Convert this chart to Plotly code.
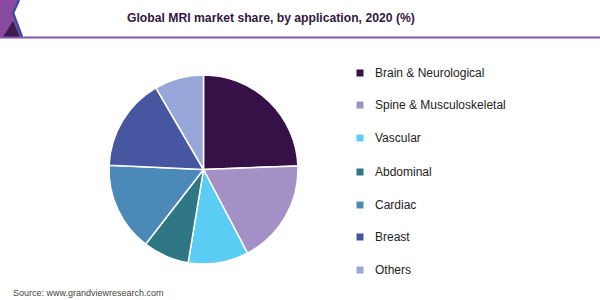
import plotly.graph_objects as go

categories = ["Brain & Neurological", "Spine & Musculoskeletal", "Vascular",
              "Abdominal", "Cardiac", "Breast", "Others"]
shares = [24.4, 17.9, 10.3, 7.9, 15.2, 15.9, 8.4]
colors = ["#361148", "#a390c4", "#5bcdf5", "#2f7787", "#4b8ab8", "#4656a0", "#97a7da"]

title_text = "Global MRI market share, by application, 2020 (%)"
source_text = "Source: www.grandviewresearch.com"

W, H = 600, 300


def px(x):
    return x / W


def py(y):
    return 1 - y / H


cx, cy, r = 203.5, 169.5, 94.5

fig = go.Figure()
fig.add_trace(go.Pie(
    labels=categories, values=shares, sort=False, direction="clockwise",
    rotation=0, marker=dict(colors=colors, line=dict(color="white", width=1.5)),
    textinfo="none", hoverinfo="label+percent", showlegend=False,
    domain=dict(x=[px(cx - r), px(cx + r)], y=[py(cy + r), py(cy - r)]),
))

shapes = []
annotations = []

# header decoration
def path(points):
    s = "M " + " L ".join(f"{px(x)},{py(y)}" for x, y in points) + " Z"
    return s

shapes.append(dict(type="path", xref="paper", yref="paper",
                   path=path([(0, 0), (18, 0), (12, 13), (21, 37), (0, 37)]),
                   fillcolor="#8a4a9f", line=dict(width=0)))
shapes.append(dict(type="path", xref="paper", yref="paper",
                   path=path([(3, 37), (13, 21), (20, 37)]),
                   fillcolor="#3d1a50", line=dict(width=0)))
shapes.append(dict(type="path", xref="paper", yref="paper",
                   path=f"M {px(19)},{py(0)} L {px(13)},{py(13)} L {px(22)},{py(37)}",
                   line=dict(color="#3b48a0", width=2.5)))
shapes.append(dict(type="line", xref="paper", yref="paper",
                   x0=0, x1=1, y0=py(37.5), y1=py(37.5),
                   line=dict(color="#8354a8", width=2)))

annotations.append(dict(text=f"<b>{title_text}</b>", x=px(271), y=py(18),
                        xref="paper", yref="paper", showarrow=False,
                        xanchor="center", yanchor="middle",
                        font=dict(family="Liberation Sans, Arial", size=12.2, color="#35183f")))
annotations.append(dict(text=source_text, x=px(11), y=py(293),
                        xref="paper", yref="paper", showarrow=False,
                        xanchor="left", yanchor="middle",
                        font=dict(family="Liberation Sans, Arial", size=9, color="#444444")))

# custom legend
legend_y = [73, 105, 138, 172, 205, 237, 270]
for cat, col, ly in zip(categories, colors, legend_y):
    shapes.append(dict(type="rect", xref="paper", yref="paper",
                       x0=px(356.5), x1=px(363.5), y0=py(ly + 3.5), y1=py(ly - 3.5),
                       fillcolor=col, line=dict(width=0)))
    annotations.append(dict(text=cat, x=px(373), y=py(ly),
                            xref="paper", yref="paper", showarrow=False,
                            xanchor="left", yanchor="middle",
                            font=dict(family="Liberation Sans, Arial", size=12, color="#222222")))

fig.update_layout(
    width=W, height=H, margin=dict(l=0, r=0, t=0, b=0),
    paper_bgcolor="white", plot_bgcolor="white",
    shapes=shapes, annotations=annotations,
)

fig.write_html("out.html")
